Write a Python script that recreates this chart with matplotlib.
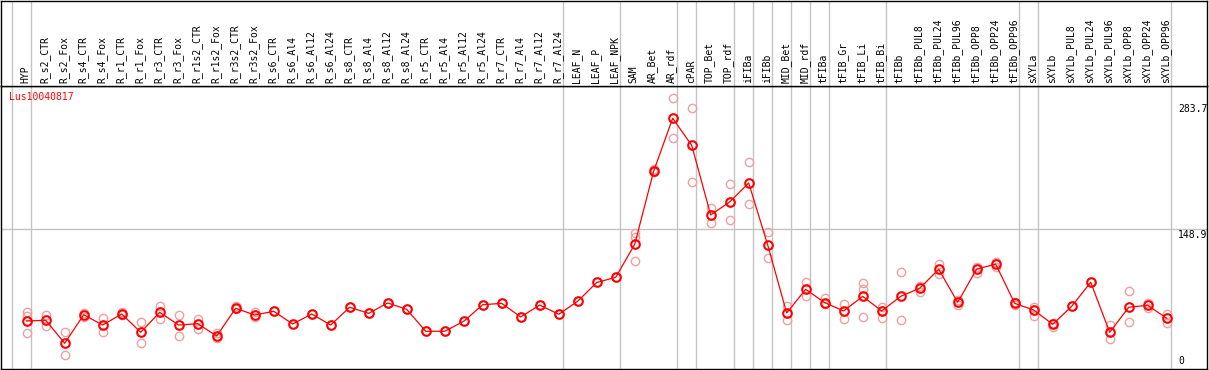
import matplotlib
matplotlib.use('Agg')
import matplotlib.pyplot as plt
import matplotlib.transforms as mtransforms

# sample names (header columns)
samples = ['HYP', 'R_s2_CTR', 'R_s2_Fox', 'R_s4_CTR', 'R_s4_Fox', 'R_r1_CTR', 'R_r1_Fox',
           'R_r3_CTR', 'R_r3_Fox', 'R_r1s2_CTR', 'R_r1s2_Fox', 'R_r3s2_CTR', 'R_r3s2_Fox',
           'R_s6_CTR', 'R_s6_Al4', 'R_s6_Al12', 'R_s6_Al24', 'R_s8_CTR', 'R_s8_Al4',
           'R_s8_Al12', 'R_s8_Al24', 'R_r5_CTR', 'R_r5_Al4', 'R_r5_Al12', 'R_r5_Al24',
           'R_r7_CTR', 'R_r7_Al4', 'R_r7_Al12', 'R_r7_Al24', 'LEAF_N', 'LEAF_P', 'LEAF_NPK',
           'SAM', 'AR_Bet', 'AR_rdf', 'cPAR', 'TOP_Bet', 'TOP_rdf', 'iFIBa', 'iFIBb',
           'MID_Bet', 'MID_rdf', 'tFIBa', 'tFIB_Gr', 'tFIB_Li', 'tFIB_Bi', 'tFIBb',
           'tFIBb_PUL8', 'tFIBb_PUL24', 'tFIBb_PUL96', 'tFIBb_OPP8', 'tFIBb_OPP24',
           'tFIBb_OPP96', 'sXYLa', 'sXYLb', 'sXYLb_PUL8', 'sXYLb_PUL24', 'sXYLb_PUL96',
           'sXYLb_OPP8', 'sXYLb_OPP24', 'sXYLb_OPP96']

# mean expression per sample
means = [50.8, 51.6, 27.0, 57.5, 46.5, 58.3, 38.7, 60.1, 46.5, 47.9, 34.8, 64.4, 57.2,
         61.2, 47.6, 58.3, 46.5, 65.5, 59.0, 70.1, 63.3, 39.8, 39.8, 50.5, 68.2,
         69.7, 55.1, 67.9, 58.0, 71.9, 92.0, 97.5,
         132.8, 211.2, 267.6, 238.7, 164.2, 178.1, 198.4, 132.1,
         59.4, 84.7, 70.4, 61.5, 77.2, 61.5, 77.2,
         85.8, 106.1, 70.8, 106.4, 111.6, 69.7,
         62.6, 47.3, 66.5, 92.2, 38.7, 65.5, 67.6, 53.7]

# individual replicates
reps = [[60.1, 56.1, 37.6], [57.5, 45.5], [38.7, 14.1], [59.7, 54.8], [53.7, 39.4],
        [60.4, 56.9], [49.4, 27.0], [66.8, 52.6], [56.9, 34.8], [52.9, 42.2],
        [37.6, 32.3], [66.8, 63.3], [60.7, 54.8],
        [61.2], [47.6], [58.3], [46.5], [65.5], [59.0], [70.1], [63.3], [39.8], [39.8],
        [50.5], [68.2], [69.7], [55.1], [67.9], [58.0], [71.9], [92.0], [97.5],
        [145.2, 141.0, 115.0], [213.4, 210.2], [289.0, 246.2], [278.3, 199.1],
        [171.3, 155.3], [197.3, 158.8], [220.5, 175.9], [145.7, 118.2],
        [66.8, 51.9], [92.2, 77.5], [75.1, 68.7], [68.7, 52.6], [91.1, 84.7, 54.8],
        [66.1, 54.3], [102.9, 51.6],
        [88.2, 82.1], [111.8, 101.4], [67.9, 73.6], [108.9, 101.8], [114.2, 108.2],
        [71.1, 68.4],
        [66.1, 56.1], [49.0, 44.1], [66.5], [92.2], [46.5, 31.2], [82.9, 49.4],
        [69.7, 64.4], [58.3, 49.0]]

# last sample index of each group (vertical separators)
group_ends = [-1, 0, 28, 31, 34, 35, 37, 38, 39, 40, 41, 42, 45, 52, 53, 60]
y_labels = [283.7, 148.9, 0]
gene = 'Lus10040817'

W, H = 1209, 370
mono = 'DejaVu Sans Mono'
xlim = ((1 - 26.7) / 19, (1207 - 26.7) / 19)

fig = plt.figure(figsize=(W / 100, H / 100), dpi=100)
ax = fig.add_axes([1 / W, 1.3 / H, 1206 / W, 282.7 / H])
hd = fig.add_axes([1 / W, 284 / H, 1206 / W, 85.5 / H])

for a in (ax, hd):
    a.set_xlim(*xlim)
    a.set_xticks([])
    a.set_yticks([])
    for s in a.spines.values():
        s.set_color('black')
        s.set_linewidth(1)
    for g in group_ends:
        a.axvline(g + 0.2, color='#c4c4c4', lw=1, zorder=0)

hd.set_ylim(0, 1)
for i, name in enumerate(samples):
    hd.text(i - 0.05, 0.03, name, rotation=90, ha='center', va='bottom',
            fontsize=7, family=mono)

ax.set_ylim(-0.2, 302.1)
ax.axhline(148.9, color='#c4c4c4', lw=1, zorder=0)

x = list(range(len(samples)))
for i, r in enumerate(reps):
    ax.plot([i] * len(r), r, 'o', ms=6, mfc='none', mec='#f0a0a0', mew=1, zorder=2)
ax.plot(x, means, '-', color='red', lw=0.9, marker='o', ms=6.2, mfc='none',
        mec='red', mew=1.5, zorder=3)

trans = mtransforms.blended_transform_factory(ax.transAxes, ax.transData)
for v in y_labels:
    ax.text((1178 - 1) / 1206, v + (2.5 if v == 0 else -0.5), str(v) if v else '0',
            transform=trans, ha='left', va='bottom' if v == 0 else 'top',
            fontsize=7, family=mono)

ax.text(8 / 1206, 1 - 11 / 282.7, gene, transform=ax.transAxes, color='red',
        fontsize=7, family=mono, va='center', ha='left')

fig.savefig('out.png', dpi=100)
